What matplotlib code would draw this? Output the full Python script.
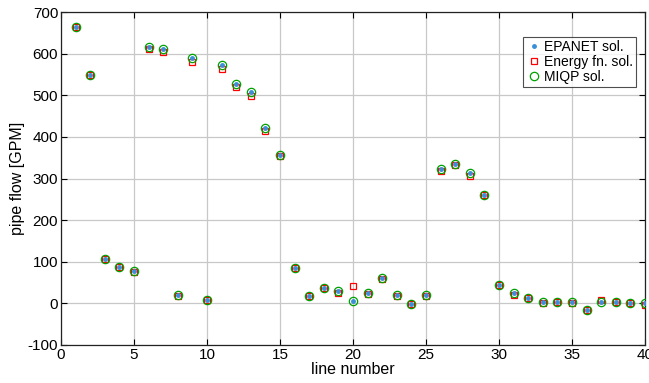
import matplotlib
matplotlib.use("Agg")
import matplotlib.pyplot as plt
import numpy as np

plt.rcParams['font.family'] = ['Liberation Sans', 'DejaVu Sans']
plt.rcParams['axes.unicode_minus'] = False

line_number = list(range(1, 41))
epanet = [665, 549, 107, 88, 78, 617, 612, 19, 590, 7,
          572, 528, 509, 421, 356, 86, 18, 38, 29, 5,
          24, 61, 19, -2, 19, 322, 336, 313, 260, 45,
          24, 13, 4, 4, 3, -15, 4, 4, 1, 0]
energy = [665, 548, 106, 88, 76, 612, 605, 18, 581, 7,
          563, 519, 498, 413, 354, 85, 18, 37, 24, 41,
          23, 58, 18, -2, 18, 318, 332, 307, 260, 43,
          21, 12, 1, 3, 1, -16, 9, 4, 1, -4]
miqp = [665, 549, 107, 88, 78, 617, 612, 19, 590, 7,
        572, 528, 509, 421, 356, 86, 18, 38, 29, 5,
        24, 61, 19, -2, 19, 322, 336, 313, 260, 45,
        24, 13, 4, 4, 3, -15, 4, 4, 1, 0]

fig = plt.figure(figsize=(6.49, 3.83), dpi=100)
ax = fig.add_axes([61/649, 1-345/383, (645-61)/649, (345-12)/383])

ax.plot(line_number, epanet, linestyle='none', marker='.', color='#3a8fd6',
        markersize=5, label='EPANET sol.', zorder=3)
ax.plot(line_number, energy, linestyle='none', marker='s', markerfacecolor='none',
        markeredgecolor='#ff0000', markersize=5, markeredgewidth=0.9,
        label='Energy fn. sol.', zorder=2)
ax.plot(line_number, miqp, linestyle='none', marker='o', markerfacecolor='none',
        markeredgecolor='#00a000', markersize=6, markeredgewidth=0.9,
        label='MIQP sol.', zorder=4)

ax.set_xlim(0, 40)
ax.set_ylim(-100, 700)
ax.set_xticks(np.arange(0, 41, 5))
ax.set_yticks(np.arange(-100, 701, 100))
ax.grid(True, color='#c8c8c8', linewidth=0.9)
ax.set_axisbelow(True)
ax.tick_params(direction='in', top=True, right=True, labelsize=11,
               length=4, width=0.8, pad=2)
for s in ax.spines.values():
    s.set_linewidth(0.9)
    s.set_color('#222222')

ax.set_xlabel('line number', fontsize=11.5, labelpad=0)
ax.set_ylabel('pipe flow [GPM]', fontsize=11.5, labelpad=2)

leg = ax.legend(loc='upper right', bbox_to_anchor=(0.985, 0.925), fontsize=10,
                frameon=True, fancybox=False, edgecolor='#222222',
                borderpad=0.2, handletextpad=0.15, handlelength=1.2,
                labelspacing=0.08, borderaxespad=0)
leg.get_frame().set_linewidth(0.8)

fig.savefig('out.png', dpi=100)
